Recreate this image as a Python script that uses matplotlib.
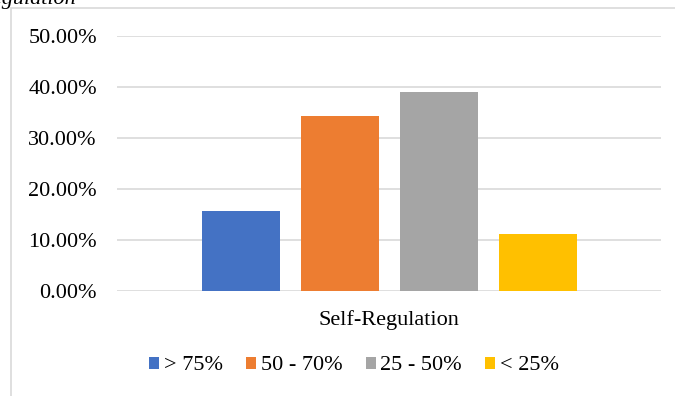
import matplotlib
matplotlib.use("Agg")
import matplotlib.pyplot as plt
from matplotlib.patches import Rectangle
from matplotlib.ticker import FuncFormatter

categories = ["Self-Regulation"]
series_labels = ["> 75%", "50 - 70%", "25 - 50%", "< 25%"]
series_values = [15.7, 34.3, 39.0, 11.2]
colors = ["#4472C4", "#ED7D31", "#A5A5A5", "#FFC000"]
y_ticks = [0, 10, 20, 30, 40, 50]

plt.rcParams["font.family"] = ["Liberation Serif", "DejaVu Serif"]

W, H = 675, 396
FS = 16
fig = plt.figure(figsize=(W / 100, H / 100), dpi=100)

# chart frame (runs off the right and bottom edges)
fig.patches.append(Rectangle((11 / W, -0.1), 1.0, 1 - 8 / H + 0.1,
                             transform=fig.transFigure, fill=False,
                             edgecolor="#d9d9d9", linewidth=1.2))

# caption text partly above the frame
fig.text(76 / W, 1 + 1 / H, "Figure 5. Self-Regulation", ha="right", va="center",
         fontsize=FS, style="italic", color="black")

ax = fig.add_axes([117 / W, 1 - 291 / H, 544 / W, 255 / H])
ax.set_xlim(-0.5, 0.5)
ax.set_ylim(0, 50)

bar_w = 78 / 544
step = 99 / 544
offsets = [(i - 1.5) * step for i in range(len(series_values))]
handles = []
for off, val, col, lab in zip(offsets, series_values, colors, series_labels):
    b = ax.bar(off, val, width=bar_w, color=col, label=lab, zorder=3)
    handles.append(b)

ax.set_yticks(y_ticks)
ax.yaxis.set_major_formatter(FuncFormatter(lambda v, p: f"{v:.2f}%"))
ax.grid(axis="y", color="#d9d9d9", linewidth=1.2, zorder=0)
ax.set_xticks([0])
ax.set_xticklabels(categories)
ax.tick_params(axis="both", length=0, labelsize=FS, colors="black")
ax.tick_params(axis="y", pad=14.5)
ax.tick_params(axis="x", pad=14)
for s in ax.spines.values():
    s.set_visible(False)

fig.legend(handles=handles, labels=series_labels, loc="center",
           bbox_to_anchor=(354 / W, 1 - 366 / H), ncol=4, frameon=False,
           fontsize=FS, handlelength=0.45, handleheight=0.45, handletextpad=0.2,
           columnspacing=1.05)

fig.savefig("out.png", dpi=100)
